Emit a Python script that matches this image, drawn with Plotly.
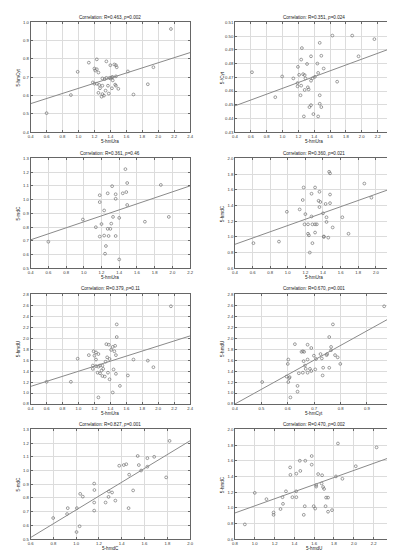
import plotly.graph_objects as go

# ---------------- data ----------------
titles = [
    "Correlation: R=0.463, <i>p</i>=0.002",
    "Correlation: R=0.351, <i>p</i>=0.024",
    "Correlation: R=0.361, <i>p</i>=0.46",
    "Correlation: R=0.360, <i>p</i>=0.021",
    "Correlation: R=0.379, <i>p</i>=0.11",
    "Correlation: R=0.670, <i>p</i>=0.001",
    "Correlation: R=0.827, <i>p</i>=0.001",
    "Correlation: R=0.470, <i>p</i>=0.002",
]
x_titles = ["5-hmUra", "5-hmUra", "5-hmUra", "5-hmUra", "5-hmUra", "5-hmCyt", "5-hmdC", "5-hmdU"]
y_titles = ["5-hmCyt", "5-fCyt", "5-mdC", "5-hmdC", "5-hmdU", "5-hmdU", "5-mdC", "5-hmdC"]

p1_x = [2.16, 0.60, 0.905, 0.99, 1.13, 1.23, 1.35, 1.20, 1.23, 1.21, 1.40, 1.45, 1.47, 1.48, 1.25,
        1.30, 1.33, 1.35, 1.39, 1.40, 1.42, 1.43, 1.43, 1.18, 1.20, 1.23, 1.26, 1.30, 1.37, 1.46,
        1.47, 1.27, 1.42, 1.50, 1.34, 1.25, 1.30, 1.32, 1.29, 1.38, 1.62, 1.69, 1.87, 1.94, 1.47]
p1_y = [0.964, 0.504, 0.603, 0.730, 0.780, 0.798, 0.787, 0.748, 0.744, 0.737, 0.766, 0.770, 0.766, 0.755, 0.726,
        0.694, 0.690, 0.697, 0.697, 0.694, 0.701, 0.701, 0.683, 0.672, 0.665, 0.665, 0.658, 0.654, 0.654, 0.660,
        0.654, 0.640, 0.640, 0.637, 0.627, 0.615, 0.608, 0.600, 0.594, 0.611, 0.732, 0.606, 0.662, 0.755, 0.705]

p2_x = [0.615, 0.909, 0.996, 1.137, 1.195, 1.19, 1.19, 1.21, 1.245, 1.236, 1.236, 1.228, 1.26, 1.28,
        1.29, 1.28, 1.31, 1.32, 1.33, 1.27, 1.36, 1.36, 1.38, 1.41, 1.36, 1.34, 1.39, 1.44, 1.45, 1.45,
        1.47, 1.49, 1.47, 1.47, 1.49, 1.52, 1.63, 1.69, 1.88, 1.96, 2.16]
p2_y = [0.4737, 0.4555, 0.4706, 0.4692, 0.4776, 0.4658, 0.4634, 0.4718, 0.4913, 0.4829, 0.4639, 0.4569, 0.4723, 0.4716,
        0.4692, 0.4608, 0.4797, 0.4627, 0.4612, 0.4415, 0.4853, 0.4675, 0.4694, 0.4704, 0.4497, 0.4483, 0.4432, 0.4800, 0.4732, 0.4415,
        0.4951, 0.4857, 0.4569, 0.4507, 0.4483, 0.4764, 0.5004, 0.4668, 0.5004, 0.4853, 0.4978]

p3_x = [0.60, 0.99, 1.136, 1.18, 1.18, 1.20, 1.18, 1.23, 1.23, 1.25, 1.24, 1.27, 1.27, 1.28, 1.30, 1.31,
        1.32, 1.33, 1.36, 1.36, 1.36, 1.40, 1.40, 1.44, 1.47, 1.48, 1.49, 1.49, 1.69, 1.87, 1.96]
p3_y = [0.693, 0.855, 0.799, 1.032, 0.982, 0.822, 0.731, 0.921, 0.738, 0.662, 0.606, 1.046, 0.787, 0.735, 0.787, 0.825,
        1.098, 0.874, 1.039, 1.006, 0.735, 0.564, 0.867, 1.046, 1.222, 1.055, 1.121, 0.961, 0.839, 1.107, 0.874]

p4_x = [0.61, 0.90, 0.99, 1.135, 1.18, 1.17, 1.19, 1.20, 1.23, 1.24, 1.23, 1.25, 1.27, 1.27, 1.28, 1.28,
        1.31, 1.33, 1.31, 1.31, 1.36, 1.35, 1.37, 1.36, 1.40, 1.41, 1.41, 1.43, 1.44, 1.44, 1.46, 1.47,
        1.48, 1.48, 1.48, 1.51, 1.62, 1.69, 1.87, 1.95]
p4_y = [0.92, 0.94, 1.32, 1.35, 1.63, 1.47, 1.16, 1.29, 1.04, 1.02, 1.16, 0.80, 1.55, 1.26, 0.92, 1.16,
        1.16, 1.16, 1.055, 1.63, 1.575, 1.46, 1.445, 1.38, 1.30, 1.005, 1.00, 1.42, 1.25, 1.19, 0.99, 1.83,
        1.81, 1.54, 1.43, 1.12, 1.25, 1.04, 1.68, 1.50]

p5_x = [0.60, 0.905, 0.99, 1.13, 1.19, 1.22, 1.25, 1.20, 1.22, 1.35, 1.38, 1.43, 1.46, 1.41, 1.45, 1.47,
        1.39, 1.34, 1.18, 1.22, 1.25, 1.27, 1.30, 1.18, 1.29, 1.31, 1.44, 1.24, 1.27, 1.37, 1.47, 1.30,
        1.33, 1.39, 1.52, 1.43, 1.25, 1.48, 1.48, 1.62, 1.69, 1.87, 1.94, 2.16, 1.36]
p5_y = [1.204, 1.204, 1.625, 1.69, 1.76, 1.74, 1.71, 1.68, 1.61, 1.89, 1.88, 1.84, 1.86, 1.785, 1.76, 1.69,
        1.62, 1.57, 1.50, 1.49, 1.48, 1.50, 1.50, 1.44, 1.41, 1.44, 1.43, 1.37, 1.36, 1.37, 1.35, 1.31,
        1.30, 1.25, 1.13, 1.01, 0.92, 2.25, 2.02, 1.32, 1.61, 1.59, 1.47, 2.58, 1.65]

p6_x = [0.503, 0.771, 0.757, 0.627, 0.675, 0.689, 0.764, 0.652, 0.657, 0.662, 0.764, 0.699, 0.724, 0.747,
        0.749, 0.779, 0.789, 0.602, 0.675, 0.707, 0.729, 0.660, 0.600, 0.665, 0.799, 0.684, 0.689, 0.704,
        0.734, 0.757, 0.668, 0.642, 0.657, 0.675, 0.732, 0.595, 0.607, 0.605, 0.602, 0.637, 0.637, 0.610, 0.965]
p6_y = [1.20, 2.25, 2.02, 1.89, 1.88, 1.82, 1.84, 1.75, 1.76, 1.75, 1.78, 1.68, 1.71, 1.69,
        1.71, 1.69, 1.65, 1.61, 1.61, 1.62, 1.63, 1.58, 1.53, 1.50, 1.53, 1.44, 1.40, 1.43,
        1.46, 1.46, 1.44, 1.36, 1.37, 1.37, 1.32, 1.30, 1.29, 1.27, 1.20, 1.13, 1.025, 0.92, 2.58]

p7_x = [0.798, 0.92, 0.926, 1.006, 1.003, 1.03, 1.035, 1.058, 1.158, 1.16, 1.158, 1.158, 1.258, 1.287, 1.284,
        1.315, 1.344, 1.378, 1.418, 1.44, 1.46, 1.465, 1.50, 1.54, 1.55, 1.57, 1.625, 1.625, 1.685, 1.79, 1.82]
p7_y = [0.654, 0.683, 0.726, 0.726, 0.552, 0.594, 0.830, 0.810, 0.905, 0.858, 0.767, 0.708, 0.767, 0.847, 0.808,
        0.840, 0.781, 1.035, 1.040, 1.046, 0.726, 0.970, 0.855, 1.106, 1.040, 1.000, 1.090, 1.028, 1.100, 0.950, 1.216]

p8_x = [0.90, 1.00, 1.118, 1.19, 1.19, 1.26, 1.285, 1.28, 1.315, 1.357, 1.36, 1.38, 1.42, 1.418, 1.42,
        1.455, 1.46, 1.495, 1.505, 1.51, 1.575, 1.575, 1.595, 1.61, 1.62, 1.62, 1.64, 1.68, 1.675, 1.69,
        1.70, 1.715, 1.72, 1.74, 1.74, 1.78, 1.82, 1.84, 1.885, 2.02, 2.23]
p8_y = [0.788, 1.19, 1.11, 0.94, 0.91, 0.984, 1.05, 1.135, 1.21, 1.515, 1.42, 1.135, 1.135, 1.21, 1.435,
        1.60, 1.47, 0.91, 1.02, 1.60, 1.66, 1.55, 1.02, 0.99, 1.27, 1.29, 1.43, 1.415, 1.31, 1.265,
        1.24, 1.02, 1.13, 1.13, 0.95, 0.97, 1.40, 1.82, 1.37, 1.53, 1.77]

# regression lines (end points)
fit_x = [[0.4, 2.4], [0.4, 2.4], [0.4, 2.2], [0.4, 2.2], [0.4, 2.4], [0.4, 1.0], [0.6, 2.0], [0.8, 2.4]]
fit_y = [[0.556, 0.835], [0.4492, 0.4917], [0.707, 1.100], [0.905, 1.624],
         [1.12, 2.04], [0.80, 2.40], [0.512, 1.217], [0.934, 1.657]]

# axis ranges and tick steps
x_ranges = [[0.4, 2.4], [0.4, 2.4], [0.4, 2.2], [0.4, 2.2], [0.4, 2.4], [0.4, 1.0], [0.6, 2.0], [0.8, 2.4]]
x_dticks = [0.2, 0.2, 0.2, 0.2, 0.2, 0.1, 0.2, 0.2]
y_ranges = [[0.4, 1.0], [0.43, 0.51], [0.5, 1.3], [0.6, 2.0], [0.8, 2.8], [0.8, 2.8], [0.5, 1.3], [0.6, 2.0]]
y_dticks = [0.1, 0.01, 0.1, 0.2, 0.2, 0.2, 0.1, 0.2]
y_formats = [".1f", ".2f", ".1f", ".1f", ".1f", ".1f", ".1f", ".1f"]

xs = [p1_x, p2_x, p3_x, p4_x, p5_x, p6_x, p7_x, p8_x]
ys = [p1_y, p2_y, p3_y, p4_y, p5_y, p6_y, p7_y, p8_y]

# ---------------- layout geometry (pixels) ----------------
W, H = 395, 550
col_px = [(20, 182.3), (228, 389.3)]
row_px = [(11.5, 122.3), (148.8, 259.6), (285.8, 396.6), (422.2, 533.0)]

FONT = "Liberation Sans, Arial, sans-serif"
fig = go.Figure()
annotations = []
layout = {}

for i in range(8):
    r, c = divmod(i, 2)
    n = i + 1
    xa = "xaxis" if n == 1 else f"xaxis{n}"
    ya = "yaxis" if n == 1 else f"yaxis{n}"
    xref = "x" if n == 1 else f"x{n}"
    yref = "y" if n == 1 else f"y{n}"
    left, right = col_px[c]
    top, bottom = row_px[r]
    common = dict(showgrid=True, gridcolor="#dcdcdc", gridwidth=0.6, zeroline=False,
                  showline=True, linecolor="#666666", linewidth=0.8, mirror="ticks",
                  ticks="inside", ticklen=2, tickcolor="#666666", tickwidth=0.6,
                  tickfont=dict(size=4.2, color="#333333", family=FONT))
    layout[xa] = dict(domain=[left / W, right / W], range=x_ranges[i], dtick=x_dticks[i],
                      tick0=x_ranges[i][0], tickformat=".1f", anchor=yref, **common)
    layout[ya] = dict(domain=[1 - bottom / H, 1 - top / H], range=y_ranges[i], dtick=y_dticks[i],
                      tick0=y_ranges[i][0], tickformat=y_formats[i], anchor=xref, **common)

    fig.add_trace(go.Scatter(x=xs[i], y=ys[i], mode="markers", xaxis=xref, yaxis=yref,
                             marker=dict(symbol="circle-open", size=2.8, color="#747474",
                                         line=dict(width=0.7, color="#747474")),
                             showlegend=False, hoverinfo="x+y"))
    fig.add_trace(go.Scatter(x=fit_x[i], y=fit_y[i], mode="lines", xaxis=xref, yaxis=yref,
                             line=dict(color="#8a8a8a", width=1), showlegend=False, hoverinfo="skip"))

    cx = (left + right) / 2 / W
    annotations.append(dict(text=titles[i], x=cx, y=1 - (top - 5.4) / H, xref="paper", yref="paper",
                            showarrow=False, xanchor="center", yanchor="middle", borderpad=0,
                            font=dict(size=4.6, color="#222222", family=FONT)))
    annotations.append(dict(text=x_titles[i], x=cx, y=1 - (bottom + 9.4) / H, xref="paper", yref="paper",
                            showarrow=False, xanchor="center", yanchor="middle", borderpad=0,
                            font=dict(size=4.6, color="#222222", family=FONT)))
    ylab_x = 7.3 if c == 0 else 214.7
    annotations.append(dict(text=y_titles[i], x=ylab_x / W, y=1 - (top + bottom) / 2 / H,
                            xref="paper", yref="paper", showarrow=False, textangle=-90,
                            xanchor="center", yanchor="middle", borderpad=0,
                            font=dict(size=4.6, color="#222222", family=FONT)))

fig.update_layout(width=W, height=H, margin=dict(l=0, r=0, t=0, b=0),
                  paper_bgcolor="white", plot_bgcolor="white",
                  annotations=annotations, **layout)

fig.write_html("out.html")
